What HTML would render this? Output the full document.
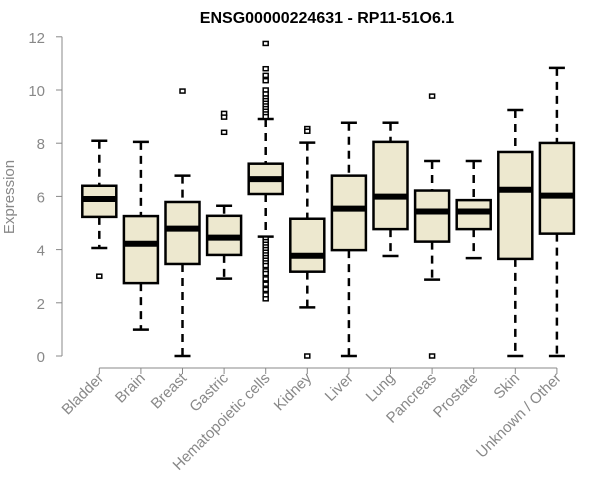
<!DOCTYPE html>
<html><head><meta charset="utf-8"><style>
body{margin:0;background:#fff;}
svg{display:block;font-family:"Liberation Sans",Arial,sans-serif;}
</style></head><body>
<svg id="chart" width="600" height="500">
<text x="327" y="23" text-anchor="middle" font-weight="bold" font-size="16">ENSG00000224631 - RP11-51O6.1</text>
<text transform="translate(14,197) rotate(-90)" text-anchor="middle" font-size="15" fill="#888">Expression</text>
<g id="yaxis"></g>
<g id="xaxis"></g>
<g id="boxes"></g>
</svg>
<script>
const categories=["Bladder","Brain","Breast","Gastric","Hematopoietic cells","Kidney","Liver","Lung","Pancreas","Prostate","Skin","Unknown / Other"];
const whiskerLow=[4.06,0.99,0,2.91,4.49,1.83,0,3.76,2.87,3.68,0,0];
const q1=[5.23,2.74,3.46,3.80,6.09,3.17,3.98,4.77,4.30,4.77,3.65,4.60];
const medians=[5.90,4.22,4.79,4.45,6.65,3.77,5.54,5.99,5.43,5.43,6.25,6.03];
const q3=[6.40,5.26,5.79,5.27,7.23,5.16,6.78,8.05,6.22,5.86,7.67,8.01];
const whiskerHigh=[8.09,8.05,6.78,5.65,8.91,8.02,8.77,8.77,7.33,7.33,9.25,10.83];
const outliers=[[3.0],[],[9.96],[9.12,8.98,8.41],
[11.75,10.8,10.55,10.35,10.0,9.85,9.7,9.6,9.5,9.4,9.3,9.2,9.1,9.0,4.4,4.3,4.2,4.1,4.0,3.9,3.8,3.7,3.6,3.5,3.4,3.2,3.1,2.9,2.7,2.5,2.3,2.15],
[8.55,8.45,0],[],[],[9.77,0],[],[],[]];
const yTicks=[0,2,4,6,8,10,12];
const NS="http://www.w3.org/2000/svg";
const y=v=>356-v*26.6;
const x=i=>99.3+i*41.6;
function mk(tag,attrs,parent){const e=document.createElementNS(NS,tag);for(const k in attrs)e.setAttribute(k,attrs[k]);parent.appendChild(e);return e;}
const ya=document.getElementById('yaxis'),xa=document.getElementById('xaxis'),bx=document.getElementById('boxes');
mk('line',{x1:62,x2:62,y1:y(12),y2:y(0),stroke:'#888'},ya);
yTicks.forEach(t=>{
 mk('line',{x1:56,x2:62,y1:y(t),y2:y(t),stroke:'#888'},ya);
 const tx=mk('text',{x:45,y:y(t)+6,'text-anchor':'end','font-size':15,fill:'#888'},ya);
 
 
 tx.textContent=t;
});
mk('line',{x1:x(0),x2:x(11),y1:368,y2:368,stroke:'#888'},xa);
categories.forEach((c,i)=>{
 mk('line',{x1:x(i),x2:x(i),y1:368,y2:374,stroke:'#888'},xa);
 const tx=mk('text',{transform:`translate(${x(i)+5},${379}) rotate(-45)`,'text-anchor':'end','font-size':15,fill:'#888'},xa);
 
 
 tx.textContent=c;
});
categories.forEach((c,i)=>{
 const g=mk('g',{},bx);
 
 
 const cx=x(i),w=17,cap=8;
 mk('line',{x1:cx,x2:cx,y1:y(whiskerHigh[i]),y2:y(q3[i]),stroke:'#000','stroke-width':2.5,'stroke-dasharray':'8,6'},g);
 mk('line',{x1:cx,x2:cx,y1:y(q1[i]),y2:y(whiskerLow[i]),stroke:'#000','stroke-width':2.5,'stroke-dasharray':'8,6'},g);
 mk('line',{x1:cx-cap,x2:cx+cap,y1:y(whiskerHigh[i]),y2:y(whiskerHigh[i]),stroke:'#000','stroke-width':2.5},g);
 mk('line',{x1:cx-cap,x2:cx+cap,y1:y(whiskerLow[i]),y2:y(whiskerLow[i]),stroke:'#000','stroke-width':2.5},g);
 mk('rect',{x:cx-w,y:y(q3[i]),width:2*w,height:y(q1[i])-y(q3[i]),fill:'#ede8cf',stroke:'#000','stroke-width':2.5},g);
 mk('line',{x1:cx-w,x2:cx+w,y1:y(medians[i]),y2:y(medians[i]),stroke:'#000','stroke-width':6},g);
 outliers[i].forEach(o=>{mk('rect',{x:cx-2.5,y:y(o)-2,width:5,height:4,fill:'#fff',stroke:'#000','stroke-width':1.5},g);});
});
</script>
</body></html>
